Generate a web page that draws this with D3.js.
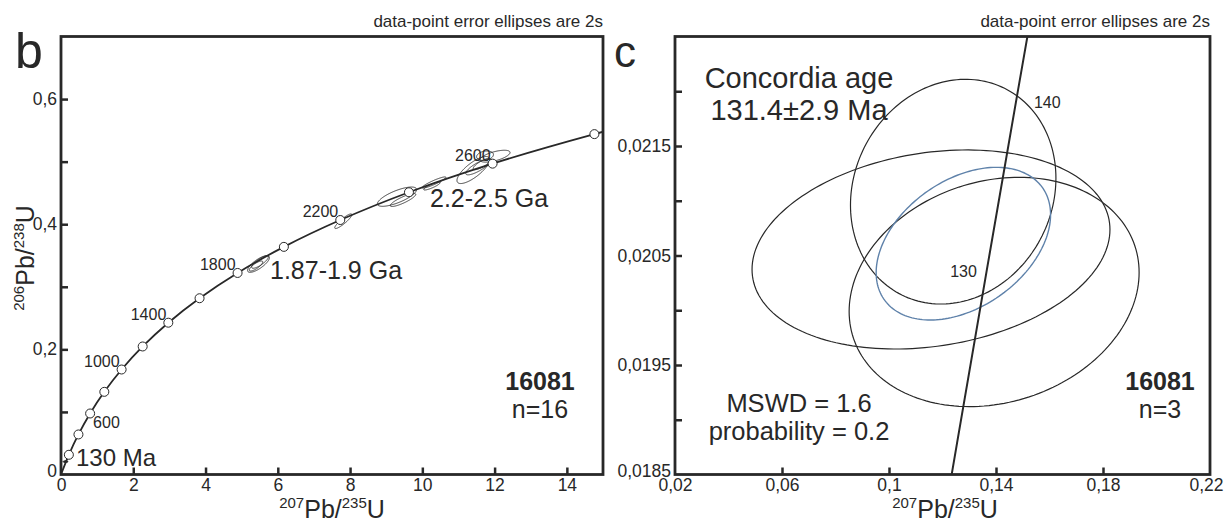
<!DOCTYPE html>
<html>
<head>
<meta charset="utf-8">
<script src="https://cdn.jsdelivr.net/npm/d3@7"></script>
<style>
  body { margin: 0; background: #fff; }
  svg text { font-family: "Liberation Sans", Arial, sans-serif; fill: #282828; }
</style>
</head>
<body>
<svg id="chart" width="1225" height="528"></svg>
<script>
// ---- panel b: concordia curve (age in Ma, 207Pb/235U, 206Pb/238U)
const curveAgesB = [0, 200, 400, 600, 800, 1000, 1200, 1400, 1600, 1800, 2000, 2200, 2400, 2600, 2800, 2900];
const curveXB = [0, 0.2177, 0.4828, 0.8057, 1.1988, 1.6774, 2.2604, 2.9701, 3.8346, 4.8868, 6.1683, 7.7291, 9.6295, 11.9441, 14.7622, 16.3933];
const curveYB = [0, 0.0315, 0.0640, 0.0975, 0.1321, 0.1678, 0.2046, 0.2426, 0.2817, 0.3221, 0.3638, 0.4067, 0.4511, 0.4968, 0.5440, 0.5681];
const markerAgesB = [200, 400, 600, 800, 1000, 1200, 1400, 1600, 1800, 2000, 2200, 2400, 2600, 2800];
const labelAgesB = [600, 1000, 1400, 1800, 2200, 2600];

// panel b analyses (2s half-widths and error correlation)
const bX   = [5.466, 5.508, 5.397, 7.813, 9.299, 9.465, 10.323, 10.268, 11.411, 11.541, 11.651, 12.011, 11.735];
const bXe  = [0.303, 0.232, 0.186, 0.237, 0.542, 0.353, 0.329, 0.229, 0.452, 0.340, 0.243, 0.416, 0.233];
const bY   = [0.3364, 0.3396, 0.3332, 0.4048, 0.4440, 0.4387, 0.4667, 0.4611, 0.4866, 0.4914, 0.4962, 0.5087, 0.5095];
const bYe  = [0.0133, 0.0100, 0.0080, 0.0117, 0.0154, 0.0104, 0.0089, 0.0064, 0.0216, 0.0125, 0.0090, 0.0095, 0.0075];
const bRho = [0.77, 0.82, 0.80, 0.90, 0.74, 0.86, 0.92, 0.87, 0.77, 0.81, 0.80, 0.62, 0.23];

const bXTicks = [2, 4, 6, 8, 10, 12, 14];
const bXLabelVals = [0, 2, 4, 6, 8, 10, 12, 14];
const bXLabels = ["0", "2", "4", "6", "8", "10", "12", "14"];
const bYTicks = [0.1, 0.2, 0.3, 0.4, 0.5, 0.6];
const bYLabelVals = [0, 0.2, 0.4, 0.6];
const bYLabels = ["0", "0,2", "0,4", "0,6"];

// ---- panel c: concordia segment and the three 130 Ma analyses
const curveAgesC = [110, 120, 130, 140, 150];
const curveXC = [0.11442, 0.12545, 0.13659, 0.14784, 0.15920];
const curveYC = [0.017210, 0.018789, 0.020371, 0.021955, 0.023542];
const labelAgesC = [130, 140];

const cX   = [0.1240, 0.1157, 0.1393];
const cXe  = [0.0384, 0.0669, 0.0542];
const cY   = [0.021083, 0.020555, 0.020167];
const cYe  = [0.001026, 0.000909, 0.001047];
const cRho = [0.12, 0.20, 0.17];
// concordia age ellipse
const ageX = 0.1278, ageXe = 0.0326, ageY = 0.020608, ageYe = 0.000697, ageRho = 0.38;

const cXTicks = [0.06, 0.1, 0.14, 0.18];
const cXLabelVals = [0.02, 0.06, 0.1, 0.14, 0.18, 0.22];
const cXLabels = ["0,02", "0,06", "0,1", "0,14", "0,18", "0,22"];
const cYTicks = [0.019, 0.0195, 0.02, 0.0205, 0.021, 0.0215, 0.022];
const cYLabelVals = [0.0185, 0.0195, 0.0205, 0.0215];
const cYLabels = ["0,0185", "0,0195", "0,0205", "0,0215"];

const svg = d3.select("#chart");
const ink = "#282828";
const plotTop = 36.5, plotBottom = 474.5;

const xB = d3.scaleLinear().domain([0, 15]).range([61, 603]);
const yB = d3.scaleLinear().domain([0, 0.7]).range([plotBottom, plotTop]);
const xC = d3.scaleLinear().domain([0.02, 0.22]).range([675, 1210]);
const yC = d3.scaleLinear().domain([0.0185, 0.0225]).range([plotBottom, plotTop]);

// error ellipse outline from center, 2s half-widths and rho
function ellipsePath(x, y, cx, sx, cy, sy, rho) {
  const k = Math.sqrt(1 - rho * rho);
  const pts = d3.range(0, 2 * Math.PI, Math.PI / 90).map(t =>
    [x(cx + sx * Math.cos(t)), y(cy + sy * (rho * Math.cos(t) + k * Math.sin(t)))]);
  return d3.line().curve(d3.curveLinearClosed)(pts);
}

function drawAxes(x, y, xTicks, xLabelVals, xLabels, yTicks, yLabelVals, yLabels) {
  const [x0, x1] = x.range();
  const gx = svg.append("g").attr("transform", `translate(0,${plotBottom})`)
    .call(d3.axisBottom(x).tickValues(xTicks).tickSize(-7).tickFormat(""));
  const gxl = svg.append("g").attr("transform", `translate(0,${plotBottom})`)
    .call(d3.axisBottom(x).tickValues(xLabelVals).tickSize(0).tickPadding(4.5)
      .tickFormat((d, i) => xLabels[i]));
  const gy = svg.append("g").attr("transform", `translate(${x0},0)`)
    .call(d3.axisLeft(y).tickValues(yTicks).tickSize(-7).tickFormat(""));
  const gyl = svg.append("g").attr("transform", `translate(${x0},0)`)
    .call(d3.axisLeft(y).tickValues(yLabelVals).tickSize(0).tickPadding(4)
      .tickFormat((d, i) => yLabels[i]));
  // lowest y label sits just above the x labels
  gyl.selectAll("text").filter((d, i) => i === 0).attr("dy", "0.1em");
  // last x label kept inside the page
  const n = xLabelVals.length;
  gxl.selectAll("text").filter((d, i) => i === n - 1 && x(d) > 1200).attr("dx", -4);
  [gx, gxl, gy, gyl].forEach(g => {
    g.select(".domain").remove();
    g.attr("font-size", 17.5);
    g.selectAll("line").attr("stroke", ink).attr("stroke-width", 2.5);
  });
  svg.append("rect")
    .attr("x", x0).attr("y", plotTop)
    .attr("width", x1 - x0).attr("height", plotBottom - plotTop)
    .attr("fill", "none").attr("stroke", ink).attr("stroke-width", 2.8);
}

function axisTitle(g, num1, mid, num2, end) {
  g.append("tspan").attr("font-size", 15).attr("dy", -10).text(num1);
  g.append("tspan").attr("font-size", 25).attr("dy", 10).text(mid);
  g.append("tspan").attr("font-size", 15).attr("dy", -10).text(num2);
  g.append("tspan").attr("font-size", 25).attr("dy", 10).text(end);
}

const defs = svg.append("defs");
defs.append("clipPath").attr("id", "clipB")
  .append("rect").attr("x", 61).attr("y", plotTop).attr("width", 542).attr("height", plotBottom - plotTop);
defs.append("clipPath").attr("id", "clipC")
  .append("rect").attr("x", 675).attr("y", plotTop).attr("width", 535).attr("height", plotBottom - plotTop);

// ================= panel b =================
const pb = svg.append("g").attr("clip-path", "url(#clipB)");

// analyses (the three 130 Ma grains plus the older ones)
const allBX = cX.concat(bX), allBXe = cXe.concat(bXe);
const allBY = cY.concat(bY), allBYe = cYe.concat(bYe), allBRho = cRho.concat(bRho);
pb.selectAll("path.ell").data(allBX).join("path")
  .attr("class", "ell")
  .attr("d", (d, i) => ellipsePath(xB, yB, d, allBXe[i], allBY[i], allBYe[i], allBRho[i]))
  .attr("fill", "none").attr("stroke", ink).attr("stroke-width", 0.9);

pb.append("path")
  .datum(curveAgesB.map((a, i) => [curveXB[i], curveYB[i]]))
  .attr("d", d3.line().x(d => xB(d[0])).y(d => yB(d[1])).curve(d3.curveCatmullRom.alpha(0.5)))
  .attr("fill", "none").attr("stroke", ink).attr("stroke-width", 1.8);

pb.selectAll("circle").data(markerAgesB).join("circle")
  .attr("cx", a => xB(curveXB[curveAgesB.indexOf(a)]))
  .attr("cy", a => yB(curveYB[curveAgesB.indexOf(a)]))
  .attr("r", 4.5)
  .attr("fill", "#fff").attr("stroke", ink).attr("stroke-width", 1);

svg.selectAll("text.ageB").data(labelAgesB).join("text")
  .attr("class", "ageB")
  .attr("font-size", 16)
  .attr("text-anchor", a => a === 600 ? "start" : "end")
  .attr("x", a => xB(curveXB[curveAgesB.indexOf(a)]) + (a === 600 ? 3 : -2))
  .attr("y", a => yB(curveYB[curveAgesB.indexOf(a)]) + (a === 600 ? 14.5 : -3))
  .text(a => a);

drawAxes(xB, yB, bXTicks, bXLabelVals, bXLabels, bYTicks, bYLabelVals, bYLabels);

svg.append("text").attr("x", 15).attr("y", 68).attr("font-size", 50).text("b");
svg.append("text").attr("x", 603).attr("y", 27).attr("font-size", 17)
  .attr("text-anchor", "end").text("data-point error ellipses are 2s");
svg.append("text").attr("x", 76).attr("y", 465.5).attr("font-size", 24).text("130 Ma");
svg.append("text").attr("x", 270).attr("y", 279).attr("font-size", 25).text("1.87-1.9 Ga");
svg.append("text").attr("x", 430).attr("y", 207).attr("font-size", 25).text("2.2-2.5 Ga");
svg.append("text").attr("x", 540).attr("y", 390).attr("font-size", 25)
  .attr("font-weight", "bold").attr("text-anchor", "middle").text("16081");
svg.append("text").attr("x", 540).attr("y", 418).attr("font-size", 25)
  .attr("text-anchor", "middle").text("n=16");

axisTitle(svg.append("text").attr("x", 332).attr("y", 518).attr("text-anchor", "middle"),
  "207", "Pb/", "235", "U");
axisTitle(svg.append("text").attr("text-anchor", "middle")
  .attr("transform", "translate(34,258) rotate(-90)"), "206", "Pb/", "238", "U");

// ================= panel c =================
const pc = svg.append("g").attr("clip-path", "url(#clipC)");

pc.selectAll("path.ell").data(cX).join("path")
  .attr("class", "ell")
  .attr("d", (d, i) => ellipsePath(xC, yC, d, cXe[i], cY[i], cYe[i], cRho[i]))
  .attr("fill", "none").attr("stroke", ink).attr("stroke-width", 1.2);

pc.append("path")
  .attr("d", ellipsePath(xC, yC, ageX, ageXe, ageY, ageYe, ageRho))
  .attr("fill", "none").attr("stroke", "#5f82aa").attr("stroke-width", 1.4);

pc.append("path")
  .datum(curveAgesC.map((a, i) => [curveXC[i], curveYC[i]]))
  .attr("d", d3.line().x(d => xC(d[0])).y(d => yC(d[1])))
  .attr("fill", "none").attr("stroke", ink).attr("stroke-width", 2);

svg.selectAll("text.ageC").data(labelAgesC).join("text")
  .attr("class", "ageC")
  .attr("font-size", 16)
  .attr("text-anchor", a => a === 130 ? "end" : "start")
  .attr("x", a => xC(curveXC[curveAgesC.indexOf(a)]) + (a === 130 ? -10 : 17))
  .attr("y", a => yC(curveYC[curveAgesC.indexOf(a)]) + (a === 130 ? 7.5 : 11.5))
  .text(a => a);

drawAxes(xC, yC, cXTicks, cXLabelVals, cXLabels, cYTicks, cYLabelVals, cYLabels);

svg.append("text").attr("x", 614).attr("y", 67).attr("font-size", 44).text("c");
svg.append("text").attr("x", 1210).attr("y", 27).attr("font-size", 17)
  .attr("text-anchor", "end").text("data-point error ellipses are 2s");
svg.append("text").attr("x", 799).attr("y", 88).attr("font-size", 29)
  .attr("text-anchor", "middle").text("Concordia age");
svg.append("text").attr("x", 799).attr("y", 120).attr("font-size", 29)
  .attr("text-anchor", "middle").text("131.4±2.9 Ma");
svg.append("text").attr("x", 799).attr("y", 412).attr("font-size", 25.5)
  .attr("text-anchor", "middle").text("MSWD = 1.6");
svg.append("text").attr("x", 799).attr("y", 440).attr("font-size", 25.5)
  .attr("text-anchor", "middle").text("probability = 0.2");
svg.append("text").attr("x", 1160).attr("y", 390).attr("font-size", 25)
  .attr("font-weight", "bold").attr("text-anchor", "middle").text("16081");
svg.append("text").attr("x", 1160).attr("y", 418).attr("font-size", 25)
  .attr("text-anchor", "middle").text("n=3");

axisTitle(svg.append("text").attr("x", 945).attr("y", 518).attr("text-anchor", "middle"),
  "207", "Pb/", "235", "U");
</script>
</body>
</html>
